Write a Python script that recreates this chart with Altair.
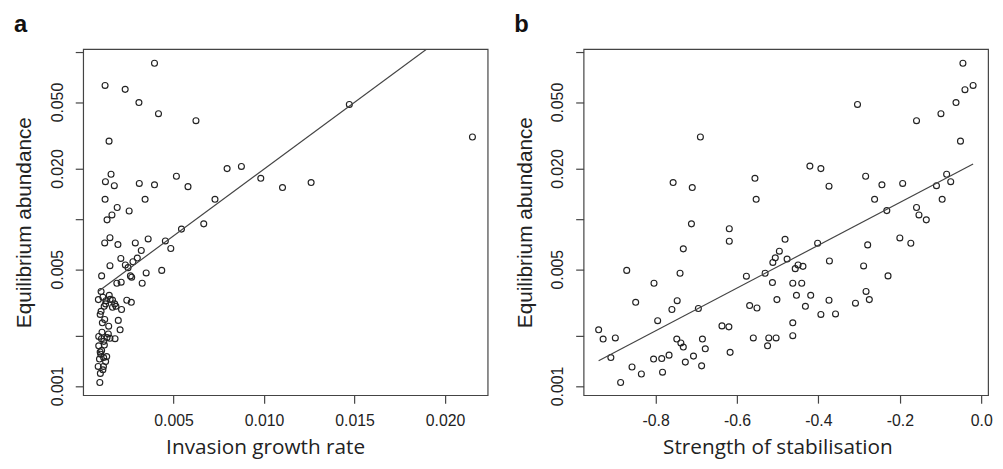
import altair as alt
import pandas as pd

# ---------------- Panel a: invasion growth rate vs equilibrium abundance
a_growth = [0.00395, 0.00122, 0.00233, 0.00309, 0.00417, 0.00624, 0.00144, 0.01471, 0.02151,
            0.00155, 0.00124, 0.00173, 0.00311, 0.00395, 0.00516, 0.00580, 0.00796, 0.00875,
            0.00982, 0.01102, 0.01260, 0.00122, 0.00343, 0.00729, 0.00189, 0.00255, 0.00160,
            0.00133, 0.00667, 0.00544, 0.00120, 0.00149, 0.00193, 0.00289, 0.00360, 0.00322,
            0.00455, 0.00485, 0.00209, 0.00149, 0.00234, 0.00249, 0.00276, 0.00300, 0.00262,
            0.00103, 0.00349, 0.00435, 0.00187, 0.00211, 0.00327, 0.00100, 0.00145, 0.00085,
            0.00127, 0.00163, 0.00242, 0.00267, 0.00117, 0.00163, 0.00213, 0.00095, 0.00107,
            0.00142, 0.00195, 0.00205, 0.00087, 0.00102, 0.00133, 0.00177, 0.00087, 0.00118,
            0.00103, 0.00131, 0.00114, 0.00091, 0.00084, 0.00113, 0.00096, 0.00093, 0.00149,
            0.00182, 0.00098, 0.00269,
            0.00110, 0.00125, 0.00100, 0.00120, 0.00105, 0.00140, 0.00115, 0.00095, 0.00125,
            0.00110, 0.00150, 0.00175]
a_abund = [0.0854, 0.0629, 0.0596, 0.0497, 0.0426, 0.0387, 0.0292, 0.0484, 0.0309,
           0.0185, 0.0167, 0.0158, 0.0163, 0.0160, 0.0180, 0.0156, 0.0200, 0.0206,
           0.0175, 0.0154, 0.0165, 0.0131, 0.0131, 0.0131, 0.0117, 0.01115, 0.01056,
           0.00987, 0.00934, 0.00869, 0.00718, 0.00772, 0.00702, 0.00718, 0.00759, 0.00647,
           0.00738, 0.00665, 0.00580, 0.00525, 0.00530, 0.00511, 0.00554, 0.00583, 0.00456,
           0.00456, 0.00475, 0.00492, 0.00412, 0.00418, 0.00412, 0.00368, 0.00349, 0.00329,
           0.00324, 0.00327, 0.00326, 0.00317, 0.00300, 0.00296, 0.00287, 0.00268, 0.00239,
           0.00228, 0.00247, 0.00217, 0.00198, 0.00192, 0.00195, 0.00192, 0.00174, 0.00176,
           0.00163, 0.00150, 0.00148, 0.00145, 0.00131, 0.00131, 0.00119, 0.00105, 0.00193,
           0.00300, 0.00155, 0.00448,
           0.00340, 0.00310, 0.00280, 0.00250, 0.00210, 0.00205, 0.00185, 0.00160, 0.00140,
           0.00125, 0.00330, 0.00310]

# ---------------- Panel b: strength of stabilisation vs equilibrium abundance
b_stab = [-0.690, -0.757, -0.710, -0.556, -0.553, -0.712, -0.619, -0.045, -0.040, -0.020,
          -0.062, -0.099, -0.304, -0.159, -0.051, -0.421, -0.394, -0.374, -0.284, -0.244,
          -0.193, -0.085, -0.075, -0.110, -0.262, -0.096, -0.232, -0.159, -0.153, -0.135,
          -0.940, -0.929, -0.899, -0.910, -0.886, -0.858, -0.835, -0.871, -0.849, -0.804,
          -0.795, -0.805, -0.785, -0.767, -0.783, -0.619, -0.732, -0.740, -0.747, -0.760,
          -0.695, -0.748, -0.738, -0.732, -0.727, -0.707, -0.685, -0.678, -0.687, -0.637,
          -0.620, -0.617, -0.577, -0.569, -0.551, -0.560, -0.531, -0.513, -0.525, -0.522,
          -0.504, -0.512, -0.506, -0.496, -0.502, -0.482, -0.477, -0.402, -0.450, -0.438,
          -0.457, -0.463, -0.441, -0.373, -0.454, -0.419, -0.432, -0.374, -0.394, -0.358,
          -0.463, -0.463, -0.289, -0.279, -0.200, -0.173, -0.229, -0.283, -0.275, -0.309]
b_abund = [0.0309, 0.0165, 0.0154, 0.0175, 0.0131, 0.00934, 0.00873, 0.0854, 0.0593, 0.0629,
           0.0497, 0.0426, 0.0484, 0.0387, 0.0292, 0.0207, 0.0200, 0.0157, 0.0180, 0.0160,
           0.0163, 0.0185, 0.0167, 0.0158, 0.0131, 0.0131, 0.01121, 0.0117, 0.01056, 0.00987,
           0.00217, 0.00191, 0.00194, 0.00148, 0.00105, 0.00130, 0.00118, 0.00492, 0.00317, 0.00412,
           0.00246, 0.00145, 0.00146, 0.00153, 0.00121, 0.00735, 0.00662, 0.00473, 0.00324, 0.00287,
           0.00291, 0.00191, 0.00181, 0.00171, 0.00139, 0.00151, 0.00191, 0.00167, 0.00132, 0.00229,
           0.00226, 0.00159, 0.00454, 0.00303, 0.00293, 0.00194, 0.00473, 0.00416, 0.00174, 0.00194,
           0.00194, 0.00549, 0.00585, 0.00641, 0.00329, 0.00755, 0.00575, 0.00715, 0.00530, 0.00520,
           0.00504, 0.00412, 0.00412, 0.00560, 0.00349, 0.00349, 0.00300, 0.00326, 0.00268, 0.00270,
           0.00239, 0.00200, 0.00523, 0.00699, 0.00769, 0.00715, 0.00456, 0.00368, 0.00329, 0.00313]

# fitted log10-linear regressions
a_fit = (-2.5012, 79.93)
b_fit = (-1.6456, 1.2797)

# axis settings
y_domain = [0.000881, 0.1038]
y_ticks = [0.001, 0.002, 0.005, 0.01, 0.02, 0.05, 0.1]
y_labelled = [0.001, 0.005, 0.02, 0.05]
a_domain = [0.00001, 0.02235]
a_ticks = [0.005, 0.010, 0.015, 0.020]
b_domain = [-0.977, 0.0168]
b_ticks = [-0.8, -0.6, -0.4, -0.2, 0.0]

df_a = pd.DataFrame({"x": a_growth, "y": a_abund})
df_b = pd.DataFrame({"x": b_stab, "y": b_abund})


def fit_line(xs, fit):
    lo, hi = min(xs), max(xs)
    return pd.DataFrame({"x": [lo, hi],
                         "y": [10 ** (fit[0] + fit[1] * lo), 10 ** (fit[0] + fit[1] * hi)]})


line_a = fit_line(a_growth, a_fit)
line_b = fit_line(b_stab, b_fit)

lab_expr = " || ".join(f"abs(datum.value - {v}) < 1e-9" for v in y_labelled)
y_axis = alt.Axis(values=y_ticks, labelExpr=f"({lab_expr}) ? format(datum.value, '.3f') : ''",
                  labelAngle=270, labelAlign="center", labelBaseline="bottom",
                  title="Equilibrium abundance", titleFont="Liberation Sans", titleFontSize=21)
y_enc = alt.Y("y:Q", scale=alt.Scale(type="log", domain=y_domain, nice=False, zero=False), axis=y_axis)


def panel(df, line, domain, ticks, fmt, xtitle, title_x, letter):
    xs = alt.Scale(domain=domain, nice=False, zero=False)
    xa = alt.Axis(values=ticks, title=xtitle, titleX=title_x, titleAlign="center",
                  labelExpr=f"replace(format(datum.value, '{fmt}'), '\u2212', '-')")
    pts = alt.Chart(df).mark_point(shape="circle", filled=False, size=36, strokeWidth=1.15,
                                   color="#222", opacity=1).encode(
        x=alt.X("x:Q", scale=xs, axis=xa), y=y_enc)
    ln = alt.Chart(line).mark_line(color="#444", strokeWidth=1.2, clip=True).encode(
        x=alt.X("x:Q", scale=xs), y=alt.Y("y:Q", scale=alt.Scale(type="log", domain=y_domain, nice=False)))
    return alt.layer(pts, ln).properties(
        width=409, height=350,
        title=alt.TitleParams(letter, anchor="start", frame="bounds", fontSize=24, fontWeight="bold",
                              font="Liberation Sans", color="#111", offset=12))


pa = panel(df_a, line_a, a_domain, a_ticks, ".3f", "Invasion growth rate", 184, "a")
pb = panel(df_b, line_b, b_domain, b_ticks, ".1f", "Strength of stabilisation", 196, "b")

chart = alt.hconcat(pa, pb, spacing=25).resolve_scale(x="independent", y="independent").properties(
    padding={"left": 5, "top": 2, "right": 2, "bottom": 2}
).configure_view(stroke="#444", strokeWidth=1.2).configure_axis(
    grid=False, domain=False, ticks=True, tickColor="#444", tickSize=8, tickWidth=1.2,
    labelFont="Liberation Sans", labelFontSize=16, labelColor="#222", labelPadding=5,
    titleFont="Open Sans", titleFontSize=21, titleFontWeight="normal", titleColor="#222",
    titlePadding=8
).configure_axisY(labelPadding=10, titlePadding=15).configure_axisX(labelPadding=10, titlePadding=8)

chart.save("out.html", embed_options={"renderer": "svg", "actions": False})
